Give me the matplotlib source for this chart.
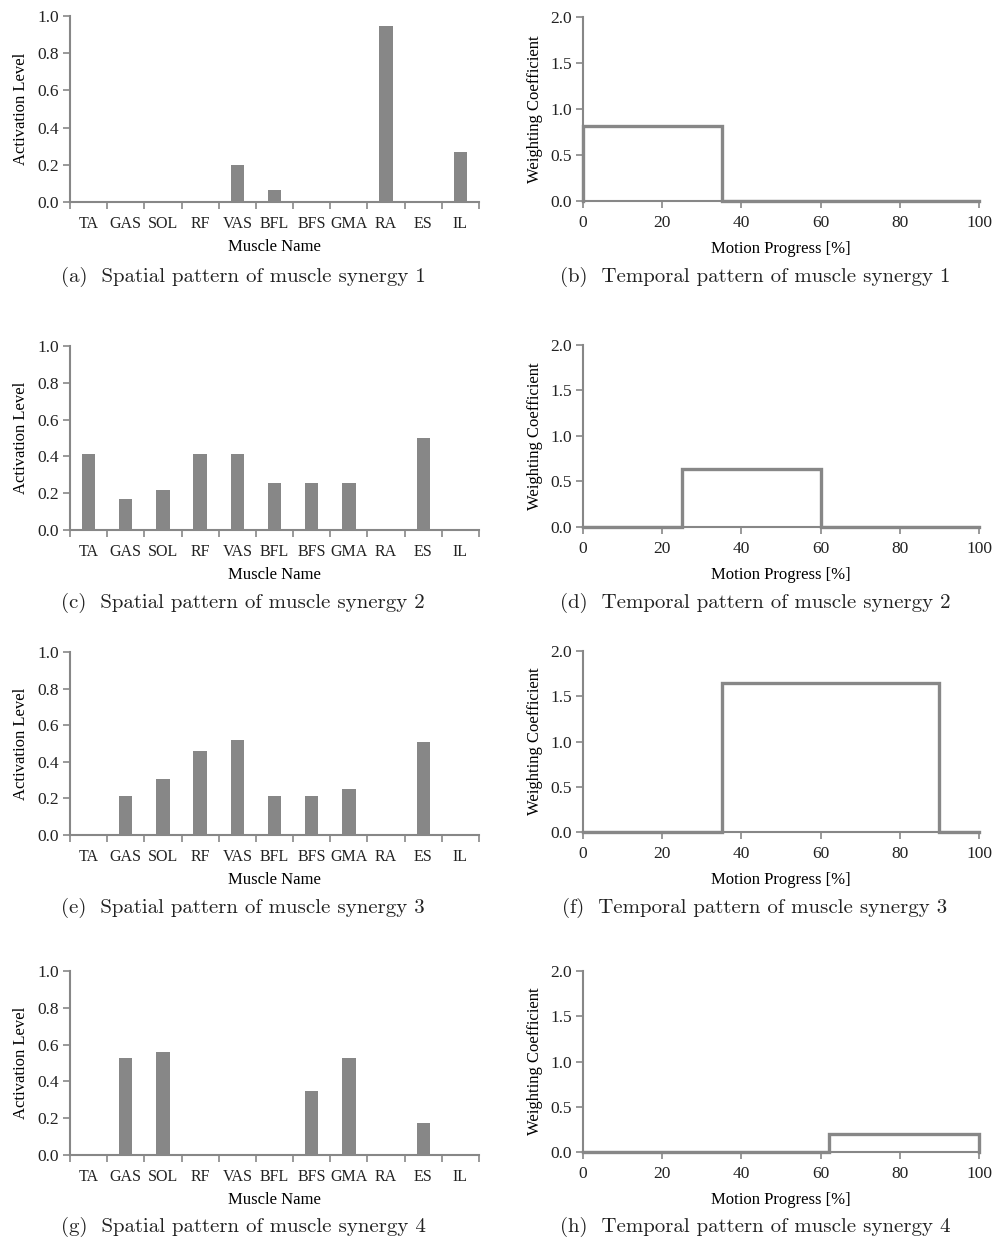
import numpy as np
import matplotlib
matplotlib.use('Agg')
import matplotlib.pyplot as plt

# Muscle synergies: spatial weights per muscle and rectangular temporal activations
muscles = ['TA', 'GAS', 'SOL', 'RF', 'VAS', 'BFL', 'BFS', 'GMA', 'RA', 'ES', 'IL']

spatial_1 = [0, 0, 0, 0, 0.20, 0.064, 0, 0, 0.944, 0, 0.268]
spatial_2 = [0.414, 0.168, 0.22, 0.414, 0.414, 0.253, 0.253, 0.253, 0, 0.50, 0]
spatial_3 = [0, 0.211, 0.304, 0.461, 0.517, 0.211, 0.211, 0.251, 0, 0.506, 0]
spatial_4 = [0, 0.526, 0.561, 0, 0, 0, 0.348, 0.526, 0, 0.176, 0]

# onset [%], offset [%], weighting level
temporal_onset = [0, 25, 35, 62]
temporal_offset = [35, 60, 90, 100]
temporal_level = [0.815, 0.635, 1.65, 0.203]

letters = ['a', 'b', 'c', 'd', 'e', 'f', 'g', 'h']

GRAY = '#878787'
TXT = '#222222'
W, H = 994, 1241

plt.rcParams['font.family'] = ['Liberation Serif', 'DejaVu Serif']
plt.rcParams['font.size'] = 12
plt.rcParams['text.color'] = TXT
plt.rcParams['xtick.color'] = GRAY
plt.rcParams['ytick.color'] = GRAY
plt.rcParams['xtick.labelcolor'] = TXT
plt.rcParams['ytick.labelcolor'] = TXT

fig = plt.figure(figsize=(W / 100, H / 100), dpi=100)


def px_axes(x0, y0, x1, y1):
    # pixel box (top-left origin) -> figure fraction
    return fig.add_axes([x0 / W, 1 - y1 / H, (x1 - x0) / W, (y1 - y0) / H])


def style(ax):
    for s in ['top', 'right']:
        ax.spines[s].set_visible(False)
    for s in ['left', 'bottom']:
        ax.spines[s].set_color(GRAY)
        ax.spines[s].set_linewidth(1.5)
    ax.tick_params(which='major', length=5, width=1.2, direction='out', labelsize=12.5, pad=3)


spatial = [spatial_1, spatial_2, spatial_3, spatial_4]
left_rows = [(16, 202), (346, 530), (652, 835), (971, 1155)]
right_rows = [(17, 201), (345, 527), (651, 832), (971, 1152)]
caption_y = [277, 603, 908, 1227]

x_pos = np.arange(len(muscles))
for i in range(4):
    # spatial pattern (bars)
    top, bot = left_rows[i]
    ax = px_axes(70, top, 479, bot)
    ax.bar(x_pos, spatial[i], width=0.36, color=GRAY, zorder=3)
    ax.set_xlim(-0.5, len(muscles) - 0.5)
    ax.set_ylim(0, 1.0)
    ax.set_yticks(np.arange(0, 1.01, 0.2))
    ax.set_yticklabels([f'{v:.1f}' for v in np.arange(0, 1.01, 0.2)])
    ax.set_xticks(np.arange(-0.5, len(muscles), 1.0))
    ax.set_xticklabels([])
    ax.set_xticks(x_pos, minor=True)
    ax.set_xticklabels(muscles, minor=True)
    style(ax)
    ax.tick_params(axis='x', which='minor', length=0, labelsize=11.5, pad=10)
    ax.set_ylabel('Activation Level', fontsize=12, labelpad=6)
    ax.set_xlabel('Muscle Name', fontsize=12, labelpad=5)
    fig.text(243 / W, 1 - caption_y[i] / H,
             f'({letters[2 * i]})  Spatial pattern of muscle synergy {i + 1}',
             family='cmr10', fontsize=15, ha='center', va='center', color=TXT)

    # temporal pattern (step)
    top, bot = right_rows[i]
    ax = px_axes(583, top, 979, bot)
    on, off, lv = temporal_onset[i], temporal_offset[i], temporal_level[i]
    xs = [0, on, on, off, off, 100]
    ys = [0, 0, lv, lv, 0, 0]
    ax.plot(xs, ys, color=GRAY, lw=2.4, solid_joinstyle='miter', zorder=3, clip_on=False)
    ax.set_xlim(0, 100)
    ax.set_ylim(0, 2.0)
    ax.set_xticks(np.arange(0, 101, 20))
    ax.set_yticks(np.arange(0, 2.01, 0.5))
    ax.set_yticklabels([f'{v:.1f}' for v in np.arange(0, 2.01, 0.5)])
    style(ax)
    ax.tick_params(axis='x', pad=5)
    ax.set_ylabel('Weighting Coefficient', fontsize=12, labelpad=5)
    ax.set_xlabel('Motion Progress [%]', fontsize=12, labelpad=7)
    fig.text(755 / W, 1 - caption_y[i] / H,
             f'({letters[2 * i + 1]})  Temporal pattern of muscle synergy {i + 1}',
             family='cmr10', fontsize=15, ha='center', va='center', color=TXT)

fig.savefig('out.png', dpi=100, facecolor='white')
